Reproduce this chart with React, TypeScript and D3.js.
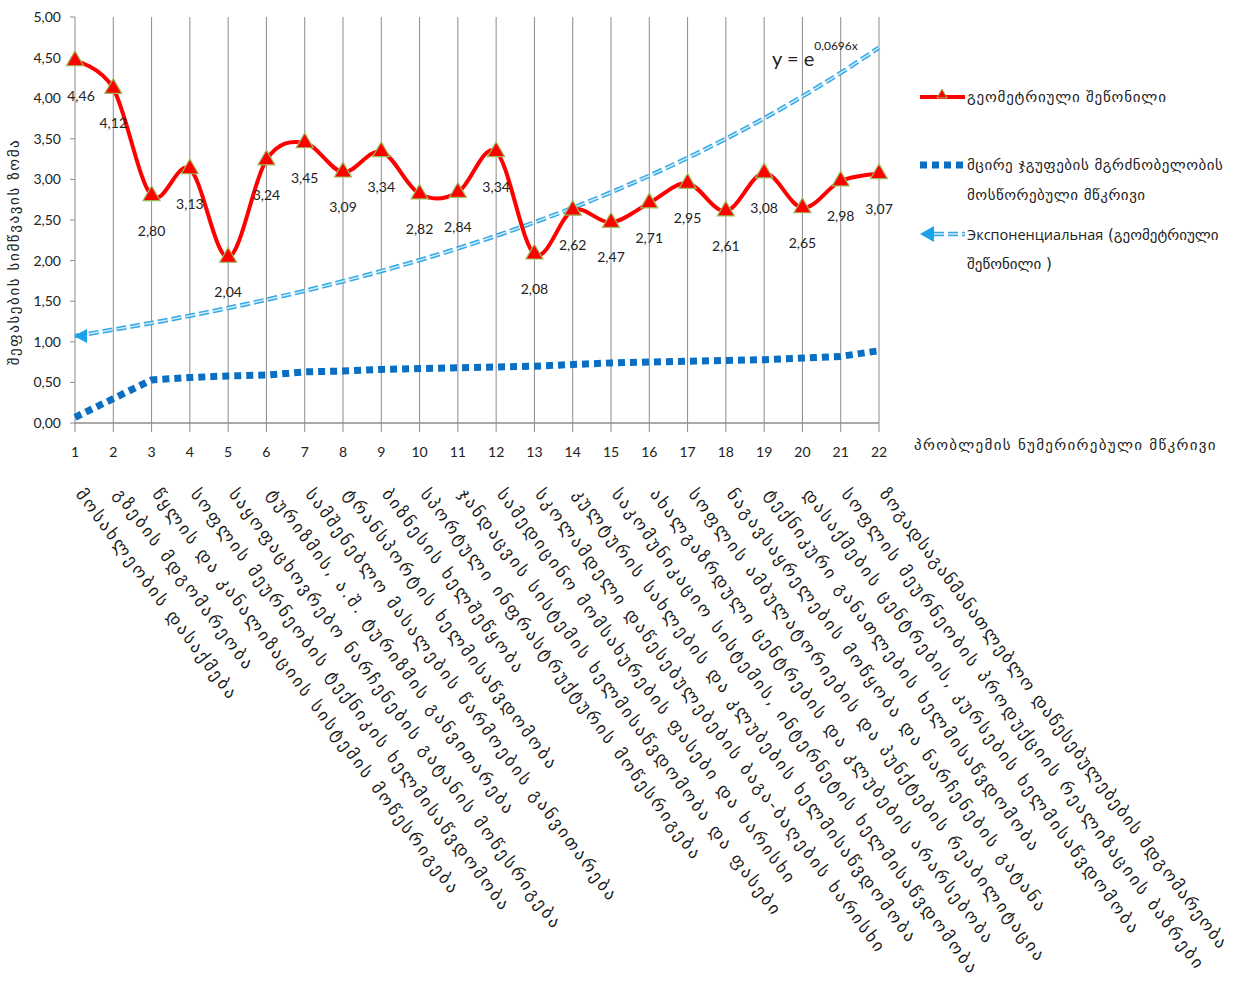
import React from "react";
import * as d3 from "d3";

const categories = [1, 2, 3, 4, 5, 6, 7, 8, 9, 10, 11, 12, 13, 14, 15, 16, 17, 18, 19, 20, 21, 22];
const geometricWeighted = [4.46, 4.12, 2.8, 3.13, 2.04, 3.24, 3.45, 3.09, 3.34, 2.82, 2.84, 3.34, 2.08, 2.62, 2.47, 2.71, 2.95, 2.61, 3.08, 2.65, 2.98, 3.07];
const smallGroupCorrected = [0.07, 0.3, 0.53, 0.56, 0.58, 0.59, 0.63, 0.64, 0.66, 0.67, 0.68, 0.69, 0.7, 0.72, 0.74, 0.75, 0.76, 0.77, 0.78, 0.8, 0.82, 0.89];
const trendCoef = 0.0696;
const yTicks = [0, 0.5, 1, 1.5, 2, 2.5, 3, 3.5, 4, 4.5, 5];
const problemLabels = [
  "მოსახლეობის დასაქმება",
  "გზების მდგომარეობა",
  "წყლის და კანალიზაციის სისტემის მოწესრიგება",
  "სოფლის მეურნეობის ტექნიკის ხელმისაწვდომობა",
  "საყოფაცხოვრებო ნარჩენების გატანის მოწესრიგება",
  "ტურიზმის, ა.შ. ტურიზმის განვითარება",
  "სამშენებლო მასალების წარმოების განვითარება",
  "ტრანსპორტის ხელმისაწვდომობა",
  "ბიზნესის ხელშეწყობა",
  "სპორტული ინფრასტრუქტურის მოწესრიგება",
  "ჯანდაცვის სისტემის ხელმისაწვდომობა და ფასები",
  "სამედიცინო მომსახურების ფასები და ხარისხი",
  "სკოლამდელი დაწესებულებების ბაგა-ბაღების ხარისხი",
  "კულტურის სახლების და კლუბების ხელმისაწვდომობა",
  "საკომუნიკაციო სისტემის, ინტერნეტის ხელმისაწვდომობა",
  "ახალგაზრდული ცენტრების და კლუბების არარსებობა",
  "სოფლის ამბულატორიების და პუნქტების რეაბილიტაცია",
  "ნაგავსაყრელების მოწყობა და ნარჩენების გატანა",
  "ტექნიკური განათლების ხელმისაწვდომობა",
  "დასაქმების ცენტრების, კურსების ხელმისაწვდომობა",
  "სოფლის მეურნეობის პროდუქციის რეალიზაციის ბაზრები",
  "ზოგადსაგანმანათლებლო დაწესებულებების მდგომარეობა",
];
const legendGeo1 = "გეომეტრიული შეწონილი";
const legendGeo2 = ["მცირე ჯგუფების მგრძნობელობის", "მოსწორებული მწკრივი"];
const legendTrendRu = "Экспоненциальная";
const legendTrendGeo = [" (გეომეტრიული", "შეწონილი )"];
const yAxisTitle = "შეფასების სიმწვავის ზომა";
const xAxisTitle = "პრობლემის  ნუმერირებული მწკრივი";

const W = 1235;
const H = 995;
const geo = "'DejaVu Sans', sans-serif";
const num = "Lato, 'Open Sans', sans-serif";
const ru = "'Open Sans', Lato, sans-serif";

export default function App() {
  const x = d3.scaleLinear().domain([1, 22]).range([75, 879]);
  const y = d3.scaleLinear().domain([0, 5]).range([423, 17]);
  const fmt = (v: number) => d3.format(".2f")(v).replace(".", ",");

  const redLine = d3
    .line<number>()
    .x((_, i) => x(categories[i]))
    .y((d) => y(d))
    .curve(d3.curveCardinal.tension(0))(geometricWeighted) as string;

  const blueLine = d3
    .line<number>()
    .x((_, i) => x(categories[i]))
    .y((d) => y(d))(smallGroupCorrected) as string;

  const trendXs = d3.range(categories[0], categories[categories.length - 1] + 0.001, 0.25);
  const trendLine = d3
    .line<number>()
    .x((d) => x(d))
    .y((d) => y(Math.exp(trendCoef * d)))(trendXs) as string;

  const tri = d3.symbol().type(d3.symbolTriangle).size(125)() as string;
  const triSmall = d3.symbol().type(d3.symbolTriangle).size(45)() as string;

  const trendStart = { x: x(1), y: y(Math.exp(trendCoef * 1)) };

  return (
    <svg width={W} height={H} style={{ position: "absolute", left: 0, top: 0, background: "#fff" }}>
      {/* vertical gridlines and ticks */}
      {categories.map((c) => (
        <line key={"g" + c} x1={x(c)} x2={x(c)} y1={y(5)} y2={y(0) + 9} stroke="#8c8c8c" strokeWidth={1} />
      ))}
      {/* x axis */}
      <line x1={x(1)} x2={x(22)} y1={y(0)} y2={y(0)} stroke="#8c8c8c" strokeWidth={1.5} />
      {/* y ticks */}
      {yTicks.map((t) => (
        <g key={"yt" + t}>
          <line x1={x(1) - 5} x2={x(1)} y1={y(t)} y2={y(t)} stroke="#8c8c8c" />
          <text x={61} y={y(t)} dy="0.35em" textAnchor="end" fontFamily={num} fontSize={14} fill="#222">
            {fmt(t)}
          </text>
        </g>
      ))}
      {/* x tick labels */}
      {categories.map((c) => (
        <text key={"xt" + c} x={x(c)} y={457} textAnchor="middle" fontFamily={num} fontSize={14} fill="#222">
          {c}
        </text>
      ))}

      {/* exponential trend */}
      <path d={trendLine} fill="none" stroke="#36a9e6" strokeWidth={4.5} strokeDasharray="10,4" />
      <path d={trendLine} fill="none" stroke="#c9ecfb" strokeWidth={1.5} strokeDasharray="10,4" />
      <path
        d={`M${trendStart.x - 1},${trendStart.y} L${trendStart.x + 12},${trendStart.y - 7} L${trendStart.x + 12},${trendStart.y + 7} Z`}
        fill="#1aa3e8"
      />

      {/* small-group corrected series */}
      <path d={blueLine} fill="none" stroke="#0a6fc2" strokeWidth={7} strokeDasharray="7,5" />

      {/* geometric weighted */}
      <path d={redLine} fill="none" stroke="#ff0000" strokeWidth={4} />
      {geometricWeighted.map((v, i) => (
        <path
          key={"m" + i}
          d={tri}
          transform={`translate(${x(categories[i])},${y(v)})`}
          fill="#ff0000"
          stroke="#9bbb59"
          strokeWidth={1.2}
        />
      ))}
      {geometricWeighted.map((v, i) => (
        <text
          key={"dl" + i}
          x={x(categories[i]) + (i === 0 ? 6 : 0)}
          y={y(v) + 40}
          textAnchor="middle"
          fontFamily={num}
          fontSize={14}
          fill="#222"
        >
          {fmt(v)}
        </text>
      ))}

      {/* equation */}
      <text x={772} y={66} fontFamily={num} fontSize={20} fill="#222">
        y = e
        <tspan dy={-16} fontSize={12}>
          0,0696x
        </tspan>
      </text>

      {/* y axis title */}
      <text
        transform={`translate(19,252) rotate(-90)`}
        textAnchor="middle"
        fontFamily={geo}
        fontSize={15}
        letterSpacing={1.6}
        fill="#222"
      >
        {yAxisTitle}
      </text>

      {/* x axis title */}
      <text x={914} y={450} fontFamily={geo} fontSize={15} letterSpacing={1.3} fill="#222">
        {xAxisTitle}
      </text>

      {/* legend */}
      <line x1={920} x2={965} y1={97} y2={97} stroke="#ff0000" strokeWidth={4} />
      <path d={triSmall} transform="translate(942,95)" fill="#ff0000" stroke="#9bbb59" strokeWidth={1} />
      <text x={967} y={97} dy="0.35em" fontFamily={geo} fontSize={15} letterSpacing={0.8} fill="#222">
        {legendGeo1}
      </text>

      <line x1={920} x2={966} y1={165} y2={165} stroke="#0a6fc2" strokeWidth={7} strokeDasharray="7,5" />
      {legendGeo2.map((t, i) => (
        <text key={"l1" + i} x={967} y={165 + i * 30} dy="0.35em" fontFamily={geo} fontSize={15} letterSpacing={0.5} fill="#222">
          {t}
        </text>
      ))}

      <path d="M920,234 L934,226 L934,242 Z" fill="#1aa3e8" />
      <line x1={934} x2={965} y1={234} y2={234} stroke="#36a9e6" strokeWidth={4.5} strokeDasharray="10,4" />
      <line x1={934} x2={965} y1={234} y2={234} stroke="#c9ecfb" strokeWidth={1.5} strokeDasharray="10,4" />
      <text x={967} y={234} dy="0.35em" fill="#222">
        <tspan fontFamily={ru} fontSize={14.5}>
          {legendTrendRu}
        </tspan>
        <tspan fontFamily={geo} fontSize={15}>
          {legendTrendGeo[0]}
        </tspan>
      </text>
      <text x={967} y={264} dy="0.35em" fontFamily={geo} fontSize={15} fill="#222">
        {legendTrendGeo[1]}
      </text>

      {/* rotated problem labels */}
      {problemLabels.map((t, i) => (
        <text
          key={"pl" + i}
          transform={`translate(${x(categories[i]) + 11},${486}) rotate(53.3)`}
          dy="0.8em"
          fontFamily={geo}
          fontSize={17}
          letterSpacing={i === problemLabels.length - 1 ? 1.7 : 2.6}
          fill="#1a1a1a"
        >
          {t}
        </text>
      ))}
    </svg>
  );
}
